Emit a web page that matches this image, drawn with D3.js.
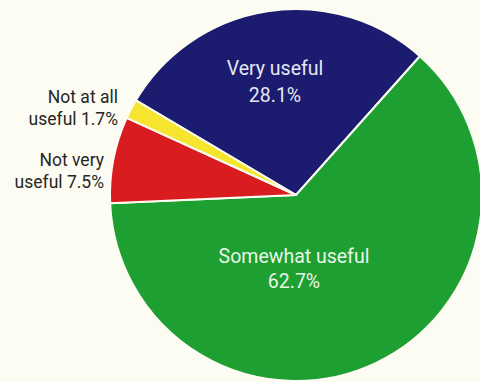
<!DOCTYPE html>
<html>
<head>
<meta charset="utf-8">
<script src="https://cdn.jsdelivr.net/npm/d3@7"></script>
<style>
  html, body { margin: 0; padding: 0; background: #fdfcf2; }
  svg { display: block; }
  text { font-family: Roboto, "Liberation Sans", sans-serif; }
</style>
</head>
<body>
<svg id="chart" width="480" height="382"></svg>
<script>
// Survey answers and their shares (%), in drawing order (clockwise)
const categories = ["Very useful", "Somewhat useful", "Not very useful", "Not at all useful"];
const shares = [28.1, 62.7, 7.5, 1.7];
const sliceColors = ["#1b1b6f", "#1e9f32", "#d91c1f", "#f6e42e"];

const width = 480, height = 382;
const cx = 296, cy = 195, radius = 186;
const startDeg = -59.4;

const svg = d3.select("#chart");
svg.append("rect").attr("width", width).attr("height", height).attr("fill", "#fdfcf2");

const data = categories.map((c, i) => ({ name: c, value: shares[i], color: sliceColors[i] }));

const pie = d3.pie()
  .value(d => d.value)
  .sort(null)
  .startAngle(startDeg * Math.PI / 180)
  .endAngle((startDeg + 360) * Math.PI / 180);

const arc = d3.arc().innerRadius(0).outerRadius(radius);

const g = svg.append("g").attr("transform", `translate(${cx},${cy})`);

g.selectAll("path.slice")
  .data(pie(data))
  .join("path")
  .attr("class", "slice")
  .attr("d", arc)
  .attr("fill", d => d.data.color)
  .attr("stroke", "#fdfcf2")
  .attr("stroke-width", 2)
  .attr("stroke-linejoin", "round");

const fmt = v => v.toFixed(1) + "%";

// Labels inside the two large slices
const inner = [
  { x: 275, y: 75, gap: 27, lines: ["Very useful", fmt(shares[0])], fill: "#e6e6f2" },
  { x: 294, y: 263, gap: 25, lines: ["Somewhat useful", fmt(shares[1])], fill: "#e9f6e6" }
];
inner.forEach(l => {
  const t = svg.append("text")
    .attr("x", l.x).attr("y", l.y)
    .attr("text-anchor", "middle")
    .attr("font-size", 19.5)
    .attr("fill", l.fill);
  l.lines.forEach((s, i) => {
    t.append("tspan").attr("x", l.x).attr("dy", i === 0 ? 0 : l.gap).text(s);
  });
});

// Labels for the two small slices, placed outside on the left
const outer = [
  { x: 118, y: 103, lines: ["Not at all", "useful " + fmt(shares[3])] },
  { x: 104, y: 166, lines: ["Not very", "useful " + fmt(shares[2])] }
];
outer.forEach(l => {
  const t = svg.append("text")
    .attr("x", l.x).attr("y", l.y)
    .attr("text-anchor", "end")
    .attr("font-size", 17.5)
    .attr("fill", "#262626");
  l.lines.forEach((s, i) => {
    t.append("tspan").attr("x", l.x).attr("dy", i === 0 ? 0 : 22).text(s);
  });
});
</script>
</body>
</html>
